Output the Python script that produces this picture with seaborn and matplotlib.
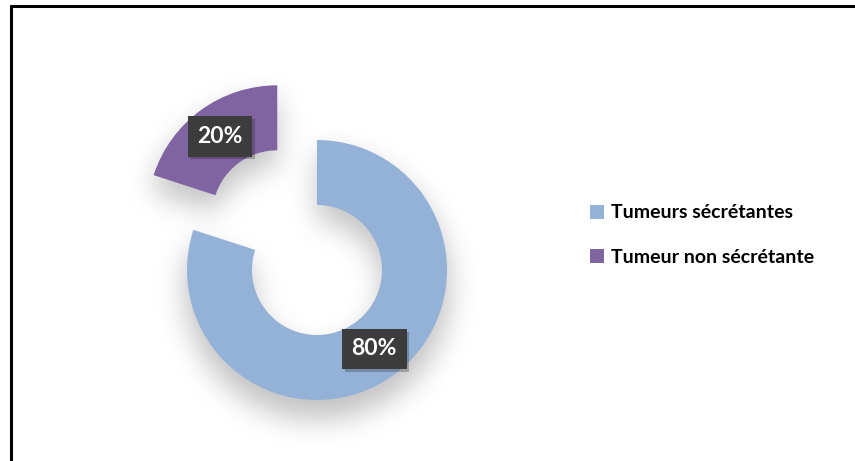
import matplotlib
matplotlib.use("Agg")
import matplotlib.pyplot as plt
import matplotlib.patheffects as pe
import numpy as np
import seaborn as sns
from matplotlib.lines import Line2D
from matplotlib.patches import Patch

categories = ["Tumeurs sécrétantes", "Tumeur non sécrétante"]
values = [80, 20]
colors = ["#94B2D7", "#8064A2"]

sns.set_theme(style="white")
plt.rcParams["font.family"] = ["Lato", "DejaVu Sans"]

W, H = 855, 461
fig = plt.figure(figsize=(W / 100, H / 100), dpi=100)
ax = fig.add_axes([0, 0, 1, 1])

cx, cy, R = 317, H - 270, 130
explode_frac = [0, 0.52]

wedges, texts, autotexts = ax.pie(
    values, colors=colors, startangle=90, counterclock=False,
    explode=[e * R for e in explode_frac], radius=R, center=(cx, cy),
    wedgeprops=dict(width=R * 0.5, linewidth=0, zorder=2),
    autopct=lambda p: f"{p:.0f}%", pctdistance=0.75,
    textprops=dict(color="white", fontsize=16.5, fontweight="bold"),
)

# soft blurred drop shadow built from the wedge geometry
yy, xx = np.mgrid[0:H, 0:W] + 0.5
mask = np.zeros((H, W))
shadow_dy = 17
for w in wedges:
    wx, wy = w.center
    dx, dy = xx - wx, yy - (wy - shadow_dy)
    rr = np.hypot(dx, dy)
    ang = np.degrees(np.arctan2(dy, dx))
    span = w.theta2 - w.theta1
    inang = np.mod(ang - w.theta1, 360) <= span
    mask = np.maximum(mask, ((rr <= w.r + 3) & (rr >= w.r - w.width) & inang).astype(float))
sig = 14
kx = np.arange(-3 * sig, 3 * sig + 1)
kern = np.exp(-kx ** 2 / (2 * sig ** 2))
kern /= kern.sum()
blur = np.apply_along_axis(lambda r: np.convolve(r, kern, mode="same"), 1, mask)
blur = np.apply_along_axis(lambda c: np.convolve(c, kern, mode="same"), 0, blur)
rgba = np.zeros((H, W, 4))
rgba[..., 3] = blur * 0.24
ax.imshow(rgba, extent=(0, W, 0, H), origin="lower", zorder=1, interpolation="bilinear")

for t in autotexts:
    t.set_bbox(dict(boxstyle="square,pad=0.42", facecolor="#3c3c3c", edgecolor="none"))
    t.get_bbox_patch().set_path_effects([pe.SimplePatchShadow(offset=(2, -2), alpha=0.25), pe.Normal()])
    t.set_zorder(5)

ax.set_xlim(0, W)
ax.set_ylim(0, H)
ax.set_aspect("auto")
ax.axis("off")

handles = [Patch(facecolor=c, edgecolor="none") for c in colors]
fig.legend(handles, categories, loc="center left", bbox_to_anchor=(572 / W, 1 - 235 / H),
           frameon=False, handlelength=0.72, handleheight=0.72, handletextpad=0.4,
           labelspacing=1.4, prop=dict(weight="bold", size=14), labelcolor="black")

# frame lines (left and top)
fig.add_artist(Line2D([10.5 / W, 10.5 / W], [0, 1 - 6 / H], color="black", lw=2.2, transform=fig.transFigure))
fig.add_artist(Line2D([10.5 / W, 1.0], [1 - 6 / H, 1 - 6 / H], color="black", lw=2.2, transform=fig.transFigure))

fig.savefig("out.png", dpi=100, facecolor="white")
